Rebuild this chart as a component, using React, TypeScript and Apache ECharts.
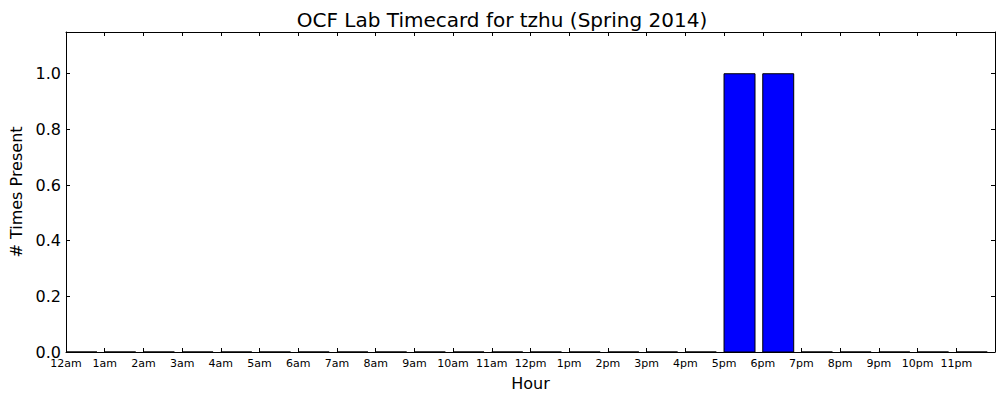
import React, { useEffect, useRef } from 'react';
import * as echarts from 'echarts';

const hourLabels = [
  '12am', '1am', '2am', '3am', '4am', '5am', '6am', '7am', '8am', '9am', '10am', '11am',
  '12pm', '1pm', '2pm', '3pm', '4pm', '5pm', '6pm', '7pm', '8pm', '9pm', '10pm', '11pm'
];

const timesPresent = [
  0, 0, 0, 0, 0, 0, 0, 0, 0, 0, 0, 0,
  0, 0, 0, 0, 0, 1, 1, 0, 0, 0, 0, 0
];

const yTicks = [0, 0.2, 0.4, 0.6, 0.8, 1.0];

const FONT = '"DejaVu Sans", sans-serif';
const BAR_WIDTH = 0.8;

const App: React.FC = () => {
  const chartRef = useRef<HTMLDivElement>(null);

  useEffect(() => {
    if (!chartRef.current) return;
    const chart = echarts.init(chartRef.current, undefined, { renderer: 'svg' });

    const frameLine = { show: true, onZero: false, lineStyle: { color: '#000', width: 1 } };
    const innerTick = { show: true, inside: true, length: 4, lineStyle: { color: '#000', width: 1 } };

    const option: echarts.EChartsOption = {
      animation: false,
      backgroundColor: '#fff',
      textStyle: { fontFamily: FONT },
      title: {
        text: 'OCF Lab Timecard for tzhu (Spring 2014)',
        left: 'center',
        top: 5,
        textStyle: { fontFamily: FONT, fontSize: 20, fontWeight: 'normal', color: '#000' }
      },
      grid: { left: 65, right: 9, top: 32, bottom: 50 },
      xAxis: [
        {
          type: 'value',
          min: 0,
          max: 24,
          interval: 1,
          name: 'Hour',
          nameLocation: 'middle',
          nameGap: 23,
          nameTextStyle: { fontFamily: FONT, fontSize: 16, color: '#000' },
          axisLine: frameLine,
          axisTick: innerTick,
          splitLine: { show: false },
          axisLabel: {
            color: '#000',
            fontFamily: FONT,
            fontSize: 11,
            lineHeight: 11,
            margin: 6,
            formatter: (v: number) => hourLabels[v] ?? ''
          }
        },
        {
          type: 'value',
          position: 'top',
          min: 0,
          max: 24,
          interval: 1,
          axisLine: frameLine,
          axisTick: innerTick,
          splitLine: { show: false },
          axisLabel: { show: false }
        }
      ],
      yAxis: [
        {
          type: 'value',
          min: 0,
          max: 1.15,
          interval: 0.2,
          name: '# Times Present',
          nameLocation: 'middle',
          nameRotate: 90,
          nameGap: 42,
          nameTextStyle: { fontFamily: FONT, fontSize: 16, color: '#000' },
          axisLine: frameLine,
          axisTick: innerTick,
          splitLine: { show: false },
          axisLabel: {
            color: '#000',
            fontFamily: FONT,
            fontSize: 16,
            lineHeight: 14,
            margin: 5,
            formatter: (v: number) => (yTicks.some(t => Math.abs(t - v) < 1e-6) ? v.toFixed(1) : '')
          }
        },
        {
          type: 'value',
          position: 'right',
          min: 0,
          max: 1.15,
          interval: 0.2,
          axisLine: frameLine,
          axisTick: innerTick,
          splitLine: { show: false },
          axisLabel: { show: false }
        }
      ],
      series: [
        {
          type: 'custom',
          xAxisIndex: 0,
          yAxisIndex: 0,
          data: timesPresent.map((v, i) => [i, v]),
          renderItem: (params: any, api: any) => {
            const x0 = api.value(0);
            const v = api.value(1);
            const topLeft = api.coord([x0, v]);
            const bottomRight = api.coord([x0 + BAR_WIDTH, 0]);
            return {
              type: 'rect',
              shape: {
                x: topLeft[0],
                y: topLeft[1],
                width: bottomRight[0] - topLeft[0],
                height: bottomRight[1] - topLeft[1]
              },
              style: { fill: '#0000ff', stroke: '#000', lineWidth: 1 }
            };
          }
        }
      ]
    };

    chart.setOption(option);
    return () => chart.dispose();
  }, []);

  return (
    <div
      ref={chartRef}
      style={{ position: 'absolute', left: 0, top: 0, width: 1004, height: 402 }}
    />
  );
};

export default App;
